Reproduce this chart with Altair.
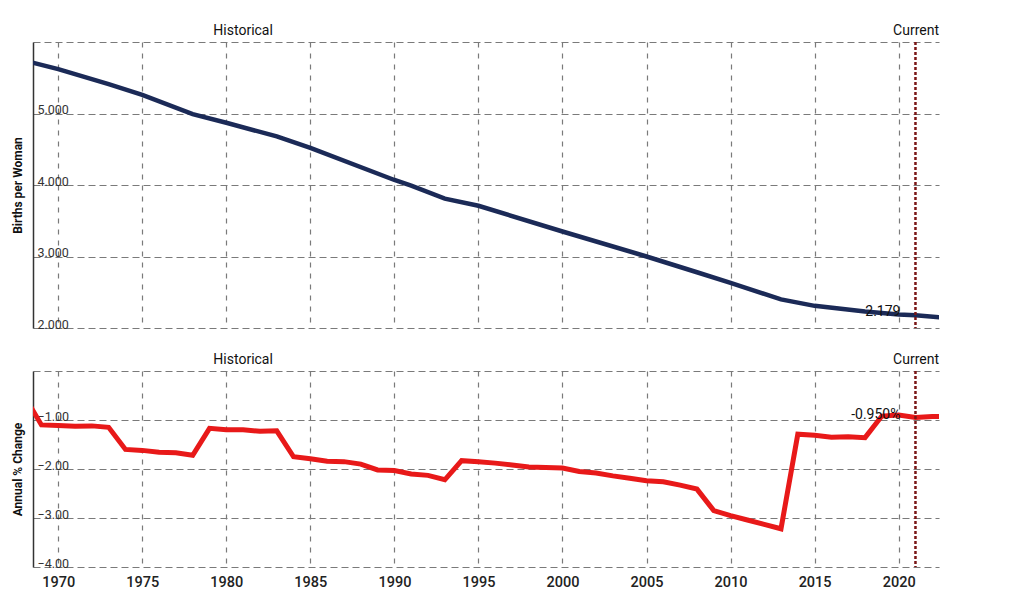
import altair as alt
import pandas as pd

# ---- data ----
years_tfr = [1968, 1970, 1973, 1975, 1978, 1980, 1983, 1985, 1990, 1991, 1993,
             1995, 2000, 2005, 2008, 2010, 2013, 2015, 2018, 2020, 2021, 2023]
tfr = [5.74, 5.62, 5.41, 5.26, 4.99, 4.87, 4.68, 4.52, 4.07, 3.99, 3.81,
       3.71, 3.35, 3.00, 2.78, 2.63, 2.40, 2.31, 2.23, 2.19, 2.179, 2.14]

years_chg = [1968, 1969, 1970, 1971, 1972, 1973, 1974, 1975, 1976, 1977, 1978,
             1979, 1980, 1981, 1982, 1983, 1984, 1985, 1986, 1987, 1988, 1989,
             1990, 1991, 1992, 1993, 1994, 1995, 1996, 1997, 1998, 1999, 2000,
             2001, 2002, 2003, 2004, 2005, 2006, 2007, 2008, 2009, 2010, 2011,
             2012, 2013, 2014, 2015, 2016, 2017, 2018, 2019, 2020, 2021, 2022, 2023]
chg = [-0.52, -1.10, -1.11, -1.13, -1.12, -1.15, -1.60, -1.62, -1.66, -1.67, -1.72,
       -1.17, -1.20, -1.20, -1.23, -1.22, -1.75, -1.79, -1.84, -1.85, -1.90, -2.02,
       -2.03, -2.10, -2.13, -2.22, -1.83, -1.85, -1.88, -1.92, -1.96, -1.97, -1.98,
       -2.05, -2.08, -2.14, -2.19, -2.24, -2.26, -2.33, -2.41, -2.85, -2.95, -3.04,
       -3.13, -3.22, -1.29, -1.31, -1.35, -1.34, -1.36, -0.92, -0.90, -0.95, -0.93, -0.93]

x_ticks = [1970, 1975, 1980, 1985, 1990, 1995, 2000, 2005, 2010, 2015, 2020]
current_year = 2021
current_tfr = 2.179
current_chg = -0.950
hist_label_year = 1981

df_tfr = pd.DataFrame({"year": years_tfr, "value": tfr})
df_chg = pd.DataFrame({"year": years_chg, "value": chg})
df_cur_top = pd.DataFrame({"year": [current_year], "value": [current_tfr],
                           "label": [f"{current_tfr:.3f}"]})
df_cur_bot = pd.DataFrame({"year": [current_year], "value": [current_chg],
                           "label": [f"{current_chg:.3f}%"]})
df_hist = pd.DataFrame({"year": [hist_label_year], "label": ["Historical"]})

W = 906
H_TOP = 286
H_BOT = 196
XDOM = [1968.5, 2022.4]
GRID = "#7a7a7a"

xscale = alt.Scale(domain=XDOM, nice=False, zero=False)


def x_axis(show_labels):
    kw = dict(values=x_ticks, title=None, ticks=False, tickSize=0, domain=False,
              grid=True, gridDash=[5, 6], gridColor=GRID, gridWidth=1.2,
              labelFlush=False, labelOverlap=False)
    if show_labels:
        kw.update(format="d", labelFontSize=14.5, labelPadding=8, labelColor="#222",
                  labelFontWeight=500)
    else:
        kw.update(labels=False)
    return alt.Axis(**kw)


def y_axis(title, values, fmt, top_val):
    return alt.Axis(
        title=title, values=values,
        labelExpr=f"datum.value >= {top_val} ? '' : format(datum.value, '{fmt}')",
        labelAlign="left", labelBaseline="alphabetic", labelPadding=-4,
        ticks=False, tickSize=0, labelFlush=False, labelOverlap=False,
        labelFontSize=12.5, labelColor="#333",
        domain=True, domainColor="#333", domainWidth=1.5,
        grid=True, gridDash=[7, 4], gridColor=GRID, gridWidth=1.2,
        titleFontSize=12, titleFontWeight="bold", titleColor="#111", titlePadding=9,
    )


def panel(df, df_cur, ytitle, ydom, yvals, fmt, color, sw, height, show_x):
    base_x = alt.X("year:Q", scale=xscale, axis=x_axis(show_x))
    line = alt.Chart(df).mark_line(color=color, strokeWidth=sw, clip=True).encode(
        x=base_x,
        y=alt.Y("value:Q", scale=alt.Scale(domain=ydom, nice=False, zero=False),
                axis=y_axis(ytitle, yvals, fmt, ydom[1])),
    )
    rule = alt.Chart(df_cur).mark_rule(color="#7a1616", strokeWidth=2.5,
                                       strokeDash=[3, 2]).encode(x="year:Q")
    ann = alt.Chart(df_cur).mark_text(align="right", baseline="middle", dx=-15, dy=-3,
                                      fontSize=14, color="#111").encode(
        x="year:Q", y="value:Q", text="label:N")
    hist = alt.Chart(df_hist).mark_text(align="center", baseline="middle",
                                        fontSize=14, color="#111").encode(
        x="year:Q", y=alt.value(-11), text="label:N")
    cur = alt.Chart(df_hist).mark_text(align="right", baseline="middle",
                                       fontSize=14, color="#111").encode(
        x=alt.value(W), y=alt.value(-11), text=alt.value("Current"))
    return alt.layer(line, rule, ann, hist, cur).properties(width=W, height=height)


top = panel(df_tfr, df_cur_top, "Births per Woman", [2, 6], [2, 3, 4, 5, 6], ".3f",
            "#1b2a57", 4.5, H_TOP, False)
bot = panel(df_chg, df_cur_bot, "Annual % Change", [-4, 0], [-4, -3, -2, -1, 0], ".2f",
            "#e81919", 5, H_BOT, True)

chart = alt.vconcat(top, bot, spacing=43, bounds="flush").properties(
    padding={"left": 3, "top": 16, "right": 5, "bottom": 5}
).configure(font="Roboto").configure_view(stroke=None)

chart.save("out.html", embed_options={"renderer": "svg", "actions": False})
